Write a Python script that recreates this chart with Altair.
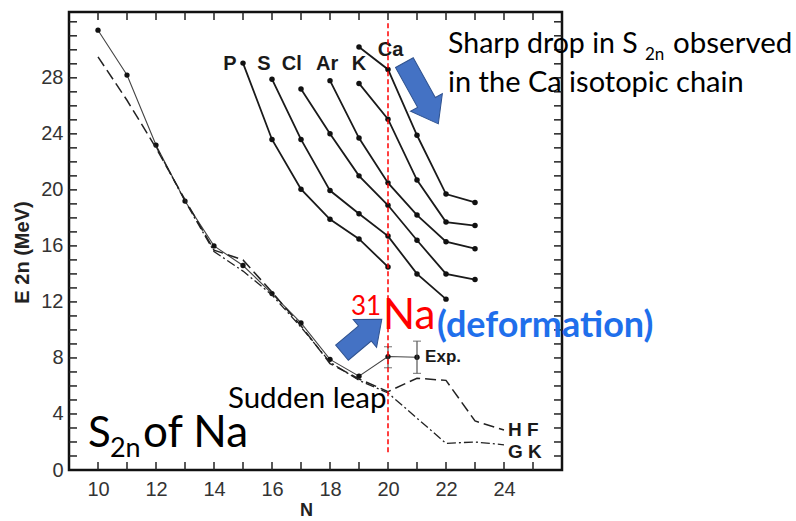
import altair as alt
import pandas as pd

# ---------------- data ----------------
na_exp_N = [10, 11, 12, 13, 14, 15, 16, 17, 18, 19, 20, 21]
na_exp_E = [31.4, 28.2, 23.2, 19.2, 16.0, 14.6, 12.6, 10.5, 7.9, 6.7, 8.1, 8.05]
err_N = [20, 21]
err_lo = [7.3, 6.9]
err_hi = [8.8, 9.2]

hf_N = [10, 11, 12, 13, 14, 15, 16, 17, 18, 19, 20, 21, 22, 23, 24]
hf_E = [29.5, 26.4, 23.0, 19.3, 15.7, 15.0, 12.7, 10.3, 7.6, 6.5, 5.6, 6.55, 6.4, 3.5, 2.85]

gk_N = [12, 13, 14, 15, 16, 17, 18, 19, 20, 21, 22, 23, 24]
gk_E = [23.1, 19.2, 15.6, 14.2, 12.5, 10.2, 7.7, 6.4, 5.5, 3.7, 1.9, 2.0, 1.8]

chains = {
    "P":  ([15, 16, 17, 18, 19, 20], [29.05, 23.6, 20.05, 17.9, 16.5, 14.5]),
    "S":  ([16, 17, 18, 19, 20, 21, 22], [27.9, 23.6, 19.95, 18.3, 16.7, 14.0, 12.2]),
    "Cl": ([17, 18, 19, 20, 21, 22, 23], [27.2, 24.0, 21.0, 18.9, 16.4, 14.0, 13.6]),
    "Ar": ([18, 19, 20, 21, 22, 23], [27.8, 23.7, 20.5, 18.2, 16.3, 15.8]),
    "K":  ([19, 20, 21, 22, 23], [27.6, 25.05, 20.7, 17.7, 17.45]),
    "Ca": ([19, 20, 21, 22, 23], [30.2, 28.6, 23.9, 19.7, 19.1]),
}
chain_label_names = ["P", "S", "Cl", "Ar", "K", "Ca"]
chain_label_N = [14.55, 15.72, 16.68, 17.9, 19.0, 20.09]
chain_label_E = [28.96, 28.96, 28.96, 28.96, 28.96, 29.96]

x_labels = [10, 12, 14, 16, 18, 20, 22, 24]
y_labels = [0, 4, 8, 12, 16, 20, 24, 28]
x_minor = list(range(10, 26))
y_minor = list(range(1, 33))

W, H = 493, 458
XD = [9, 26]
YD = [0, 32.7]

# ---------------- tables ----------------
na_df = pd.DataFrame({"N": na_exp_N, "E": na_exp_E})
err_df = pd.DataFrame({"N": err_N, "lo": err_lo, "hi": err_hi})
hf_df = pd.DataFrame({"N": hf_N, "E": hf_E})
gk_df = pd.DataFrame({"N": gk_N, "E": gk_E})
ch_rows = []
for name, (ns, es) in chains.items():
    for n, e in zip(ns, es):
        ch_rows.append({"chain": name, "N": n, "E": e})
ch_df = pd.DataFrame(ch_rows)
lab_df = pd.DataFrame({"t": chain_label_names, "N": chain_label_N, "E": chain_label_E})
xt_df = pd.DataFrame({"N": x_minor})
yt_df = pd.DataFrame({"E": y_minor})

xs = alt.Scale(domain=XD, nice=False, zero=False)
ys = alt.Scale(domain=YD, nice=False, zero=False)

FONT = "Liberation Sans"
ANN = "Lato"

xaxis = alt.Axis(values=x_labels, ticks=False, domain=False, grid=False,
                 labelFont=FONT, labelFontSize=20, labelColor="#333333", labelPadding=9,
                 title="N", titleFont=FONT, titleFontSize=18, titleFontWeight="bold",
                 titleColor="#222222", titleX=237, titleY=40, titleBaseline="middle")
yaxis = alt.Axis(values=y_labels, ticks=False, domain=False, grid=False,
                 labelFont=FONT, labelFontSize=20, labelColor="#333333", labelPadding=6,
                 title="E 2n (MeV)", titleFont=FONT, titleFontSize=20, titleFontWeight="bold",
                 titleColor="#222222", titleX=-47, titleY=240, titleAngle=270,
                 titleAlign="center", titleBaseline="middle")

base_x = alt.X("N:Q", scale=xs, axis=xaxis)
base_y = alt.Y("E:Q", scale=ys, axis=yaxis)

layers = []

# Na experiment (thin solid with dots)
layers.append(alt.Chart(na_df).mark_line(color="#444444", strokeWidth=1.1).encode(x=base_x, y=base_y))
layers.append(alt.Chart(na_df).mark_circle(color="#111111", size=28, opacity=1).encode(x="N:Q", y="E:Q"))
# error bars
layers.append(alt.Chart(err_df).mark_rule(color="#444444", strokeWidth=1.1).encode(x="N:Q", y="lo:Q", y2="hi:Q"))
layers.append(alt.Chart(err_df).mark_tick(color="#444444", thickness=1.1, size=8, orient="horizontal").encode(x="N:Q", y="lo:Q"))
layers.append(alt.Chart(err_df).mark_tick(color="#444444", thickness=1.1, size=8, orient="horizontal").encode(x="N:Q", y="hi:Q"))
# HF dashed
layers.append(alt.Chart(hf_df).mark_line(color="#222222", strokeWidth=1.5, strokeDash=[11, 5]).encode(x="N:Q", y="E:Q"))
# GK dash-dot
layers.append(alt.Chart(gk_df).mark_line(color="#222222", strokeWidth=1.3, strokeDash=[9, 3, 2, 3]).encode(x="N:Q", y="E:Q"))
# isotope chains
layers.append(alt.Chart(ch_df).mark_line(color="#1a1a1a", strokeWidth=1.8).encode(x="N:Q", y="E:Q", detail="chain:N"))
layers.append(alt.Chart(ch_df).mark_circle(color="#111111", size=30, opacity=1).encode(x="N:Q", y="E:Q"))
# chain labels
layers.append(alt.Chart(lab_df).mark_text(font=FONT, fontSize=20, fontWeight="bold", color="#1a1a1a",
                                          align="center", baseline="middle").encode(x="N:Q", y="E:Q", text="t:N"))

# red dashed vertical line at N = 20
layers.append(alt.Chart(pd.DataFrame({"N": [20], "a": [31.9], "b": [1.1]})).mark_rule(
    color="#ff0000", strokeWidth=1.5, strokeDash=[5, 3]).encode(x="N:Q", y="a:Q", y2="b:Q"))

# frame ticks (inside)
tick_style = dict(color="#222222", strokeWidth=1.5)
layers.append(alt.Chart(xt_df).mark_rule(**tick_style).encode(x="N:Q", y=alt.value(H), y2=alt.value(H - 8)))
layers.append(alt.Chart(xt_df).mark_rule(**tick_style).encode(x="N:Q", y=alt.value(0), y2=alt.value(8)))
layers.append(alt.Chart(yt_df).mark_rule(**tick_style).encode(y="E:Q", x=alt.value(0), x2=alt.value(8)))
layers.append(alt.Chart(yt_df).mark_rule(**tick_style).encode(y="E:Q", x=alt.value(W), x2=alt.value(W - 8)))

# curve labels
def txt(s, n, e, size, color="#1a1a1a", weight="normal", font=FONT, align="left", baseline="alphabetic"):
    return alt.Chart(pd.DataFrame({"N": [n], "E": [e], "t": [s]})).mark_text(
        font=font, fontSize=size, fontWeight=weight, color=color, align=align, baseline=baseline
    ).encode(x="N:Q", y="E:Q", text="t:N")

layers.append(txt("Exp.", 21.28, 8.07, 17, weight="bold", baseline="middle"))
layers.append(txt("H F", 24.14, 2.86, 19, weight="bold", baseline="middle"))
layers.append(txt("G K", 24.14, 1.29, 19, weight="bold", baseline="middle"))

# block arrows
arrow1 = "M -1 -0.29 L 0.3 -0.29 L 0.3 -0.52 L 1 0 L 0.3 0.52 L 0.3 0.29 L -1 0.29 Z"
arrow2 = "M -1 -0.38 L 0.15 -0.38 L 0.15 -0.7 L 1 0 L 0.15 0.7 L 0.15 0.38 L -1 0.38 Z"
layers.append(alt.Chart(pd.DataFrame({"N": [21.15], "E": [26.9]})).mark_point(
    shape=arrow1, size=4900, angle=61, filled=True, fill="#4472C4", stroke="#2F528F",
    strokeWidth=1, opacity=1, fillOpacity=1).encode(x="N:Q", y="E:Q"))
layers.append(alt.Chart(pd.DataFrame({"N": [19.10], "E": [9.57]})).mark_point(
    shape=arrow2, size=2704, angle=320, filled=True, fill="#4472C4", stroke="#2F528F",
    strokeWidth=1, opacity=1, fillOpacity=1).encode(x="N:Q", y="E:Q"))

# annotations
layers.append(txt("Sharp drop in S", 22.07, 29.76, 28.5, color="#000000", font=ANN))
layers.append(txt("2n", 28.86, 29.27, 17, color="#000000", font=ANN))
layers.append(txt("observed", 29.83, 29.76, 29.5, color="#000000", font=ANN))
layers.append(txt("in the Ca isotopic chain", 22.07, 27.02, 29, color="#000000", font=ANN))
layers.append(txt("31", 18.72, 11.07, 26, color="#ff0000", font=ANN))
layers.append(txt("Na", 19.83, 10.07, 42, color="#ff0000", font=ANN))
layers.append(txt("(deformation)", 21.69, 9.5, 36, color="#1F6FEB", weight="bold", font=ANN))
layers.append(txt("Sudden leap", 14.48, 4.43, 29.5, color="#000000", font=ANN))
layers.append(txt("S", 9.655, 1.64, 42, color="#000000", font=ANN))
layers.append(txt("2n", 10.41, 0.93, 27, color="#000000", font=ANN))
layers.append(txt("of Na", 11.55, 1.64, 44, color="#000000", font=ANN))

chart = alt.layer(*layers).properties(
    width=W, height=H,
    autosize=alt.AutoSizeParams(type="none"),
    padding={"left": 69, "top": 12, "right": 796 - 69 - W, "bottom": 521 - 12 - H},
    background="white",
).configure_view(stroke="#111111", strokeWidth=2.5)

chart.save("out.html", embed_options={"renderer": "svg", "actions": False})
